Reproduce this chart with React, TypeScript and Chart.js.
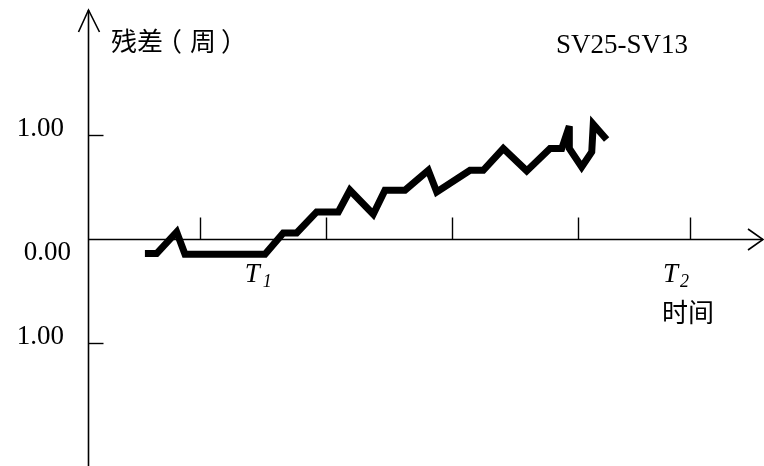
import React, { useEffect, useRef } from "react";
import { Chart, registerables } from "chart.js";

Chart.register(...registerables);

// Residual series (time, residual in cycles)
const timeValues = [0.563, 0.656, 0.815, 0.881, 1.516, 1.661, 1.767, 1.926, 2.098, 2.19, 2.375, 2.468, 2.627, 2.812, 2.879, 3.143, 3.248, 3.407, 3.593, 3.778, 3.871, 3.931, 3.931, 4.029, 4.109, 4.121, 4.227];
const residualValues = [-0.138, -0.138, 0.07, -0.144, -0.144, 0.061, 0.061, 0.263, 0.263, 0.471, 0.24, 0.471, 0.471, 0.663, 0.455, 0.663, 0.663, 0.872, 0.657, 0.872, 0.872, 1.087, 0.872, 0.695, 0.839, 1.106, 0.959];

const xTicks = [1, 2, 3, 4, 4.889];
const yTicks = [1, 0, -1];
const yTickLabels = ["1.00", "0.00", "1.00"];
const yAxisAt = 0.111;
const t1At = 1.355;
const t2At = 4.69;

const X_MIN = -0.587;
const X_MAX = 5.476;
const Y_MIN = -2.18;
const Y_MAX = 2.3;

const SERIF = '"Liberation Serif", "Times New Roman", serif';
const CJK = '"Noto Sans CJK SC", "Noto Sans", sans-serif';

const axesPlugin = {
  id: "axesPlugin",
  beforeDatasetsDraw(chart: any) {
    const ctx = chart.ctx as CanvasRenderingContext2D;
    const xs = chart.scales.x;
    const ys = chart.scales.y;
    const W = chart.width;
    const H = chart.height;
    const ax = Math.round(xs.getPixelForValue(yAxisAt)) + 0.5;
    const ay = Math.round(ys.getPixelForValue(0)) + 0.5;
    ctx.save();
    ctx.strokeStyle = "#000";
    ctx.lineWidth = 1.6;
    ctx.lineCap = "butt";
    // y axis
    ctx.beginPath();
    ctx.moveTo(ax, H);
    ctx.lineTo(ax, 10);
    ctx.stroke();
    ctx.beginPath();
    ctx.moveTo(ax - 10, 32);
    ctx.lineTo(ax, 10);
    ctx.lineTo(ax + 11, 32);
    ctx.stroke();
    // x axis
    ctx.beginPath();
    ctx.moveTo(ax, ay);
    ctx.lineTo(W - 1, ay);
    ctx.stroke();
    ctx.beginPath();
    ctx.moveTo(W - 16, ay - 10.5);
    ctx.lineTo(W - 1, ay);
    ctx.lineTo(W - 16, ay + 10.5);
    ctx.stroke();
    // x ticks
    ctx.lineWidth = 1.4;
    xTicks.forEach((v) => {
      const px = Math.round(xs.getPixelForValue(v)) + 0.5;
      ctx.beginPath();
      ctx.moveTo(px, ay);
      ctx.lineTo(px, ay - 22);
      ctx.stroke();
    });
    // y ticks
    yTicks.forEach((v) => {
      if (v === 0) return;
      const py = Math.round(ys.getPixelForValue(v)) + 0.5;
      ctx.beginPath();
      ctx.moveTo(ax, py);
      ctx.lineTo(ax + 15, py);
      ctx.stroke();
    });
    // y tick labels
    ctx.fillStyle = "#000";
    ctx.font = `27px ${SERIF}`;
    ctx.textAlign = "right";
    ctx.textBaseline = "alphabetic";
    yTicks.forEach((v, i) => {
      const py = ys.getPixelForValue(v);
      if (v === 0) {
        ctx.fillText(yTickLabels[i], 71, py + 21);
      } else {
        ctx.fillText(yTickLabels[i], 64, py + 1);
      }
    });
    // titles
    ctx.textAlign = "left";
    ctx.font = `26px ${CJK}`;
    ctx.textBaseline = "middle";
    ctx.fillText("残差", 111, 41);
    ctx.fillText("（", 156, 41);
    ctx.fillText("周", 190, 41);
    ctx.fillText("）", 221, 41);
    ctx.fillText("时间", xs.getPixelForValue(t2At) - 3, 312);
    ctx.textBaseline = "alphabetic";
    ctx.font = `27px ${SERIF}`;
    ctx.fillText("SV25-SV13", 556, 53);
    // T1, T2
    const t1 = xs.getPixelForValue(t1At);
    ctx.font = `italic 27px ${SERIF}`;
    ctx.fillText("T", t1, 282);
    ctx.font = `italic 18px ${SERIF}`;
    ctx.fillText("1", t1 + 18, 287);
    const t2 = xs.getPixelForValue(t2At) - 2;
    ctx.font = `italic 27px ${SERIF}`;
    ctx.fillText("T", t2, 282);
    ctx.font = `italic 18px ${SERIF}`;
    ctx.fillText("2", t2 + 17, 287);
    ctx.restore();
    ctx.miterLimit = 3;
  },
};

export default function App() {
  const ref = useRef<HTMLCanvasElement | null>(null);
  useEffect(() => {
    if (!ref.current) return;
    const chart = new Chart(ref.current, {
      type: "line",
      data: {
        datasets: [
          {
            data: timeValues.map((t, i) => ({ x: t, y: residualValues[i] })),
            borderColor: "#000",
            borderWidth: 7,
            borderJoinStyle: "miter",
            borderCapStyle: "butt",
            pointRadius: 0,
            tension: 0,
            fill: false,
          },
        ],
      },
      options: {
        animation: false,
        responsive: false,
        maintainAspectRatio: false,
        layout: { padding: 0 },
        plugins: { legend: { display: false }, tooltip: { enabled: false }, title: { display: false } },
        scales: {
          x: { type: "linear", min: X_MIN, max: X_MAX, display: false },
          y: { type: "linear", min: Y_MIN, max: Y_MAX, display: false },
        },
      },
      plugins: [axesPlugin],
    });
    return () => chart.destroy();
  }, []);
  return (
    <div style={{ position: "fixed", left: 0, top: 0, width: 764, height: 466, background: "#fff" }}>
      <canvas ref={ref} width={764} height={466} style={{ width: 764, height: 466, display: "block" }} />
    </div>
  );
}
